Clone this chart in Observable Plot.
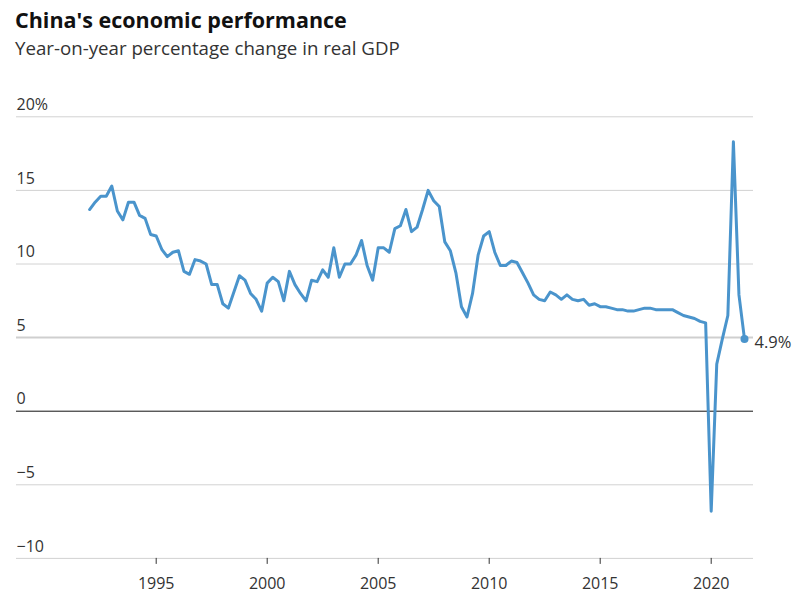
<!DOCTYPE html>
<html>
<head>
<meta charset="utf-8">
<script src="https://cdn.jsdelivr.net/npm/d3@7"></script>
<script src="https://cdn.jsdelivr.net/npm/@observablehq/plot@0.6"></script>
<style>
  body { margin: 0; background: #fff; font-family: "Open Sans", sans-serif; }
  #wrap { width: 804px; }
  #header { position: relative; height: 75px; }
  #title { position: absolute; left: 15px; top: 5px; font-size: 21.5px; line-height: normal; font-weight: 700; color: #111; white-space: nowrap; }
  #subtitle { position: absolute; left: 15px; top: 35px; font-size: 18.7px; line-height: normal; color: #333; white-space: nowrap; }
</style>
</head>
<body>
<div id="wrap">
  <div id="header">
    <div id="title">China's economic performance</div>
    <div id="subtitle">Year-on-year percentage change in real GDP</div>
  </div>
  <div id="chart"></div>
</div>
<script>
// Quarterly real GDP growth, year-on-year %, starting 1992 Q1
const startYear = 1992;
const gdpGrowth = [
  13.7, 14.2, 14.6, 14.6,   // 1992
  15.3, 13.6, 13.0, 14.2,   // 1993
  14.2, 13.3, 13.1, 12.0,   // 1994
  11.9, 11.0, 10.5, 10.8,   // 1995
  10.9, 9.5, 9.3, 10.3,     // 1996
  10.2, 10.0, 8.6, 8.6,     // 1997
  7.3, 7.0, 8.1, 9.2,       // 1998
  8.9, 8.0, 7.6, 6.8,       // 1999
  8.7, 9.1, 8.8, 7.5,       // 2000
  9.5, 8.6, 8.0, 7.5,       // 2001
  8.9, 8.8, 9.6, 9.1,       // 2002
  11.1, 9.1, 10.0, 10.0,    // 2003
  10.6, 11.6, 9.9, 8.9,     // 2004
  11.1, 11.1, 10.8, 12.4,   // 2005
  12.6, 13.7, 12.2, 12.5,   // 2006
  13.7, 15.0, 14.3, 13.9,   // 2007
  11.5, 10.9, 9.4, 7.1,     // 2008
  6.4, 8.0, 10.6, 11.9,     // 2009
  12.2, 10.8, 9.9, 9.9,     // 2010
  10.2, 10.1, 9.4, 8.7,     // 2011
  7.9, 7.6, 7.5, 8.1,       // 2012
  7.9, 7.6, 7.9, 7.6,       // 2013
  7.5, 7.6, 7.2, 7.3,       // 2014
  7.1, 7.1, 7.0, 6.9,       // 2015
  6.9, 6.8, 6.8, 6.9,       // 2016
  7.0, 7.0, 6.9, 6.9,       // 2017
  6.9, 6.9, 6.7, 6.5,       // 2018
  6.4, 6.3, 6.1, 6.0,       // 2019
  -6.8, 3.2, 4.9, 6.5,      // 2020
  18.3, 7.9, 4.9            // 2021
];
const yTicks = [-10, -5, 0, 5, 10, 15, 20];
const xTicks = [1995, 2000, 2005, 2010, 2015, 2020];
const lastLabel = "4.9%";

const rows = gdpGrowth.map((v, i) => ({ t: startYear + i / 4, v }));
const last = rows[rows.length - 1];
const fmt = d3.format("");
const lineColor = "#4a94cc";
const font = "'Open Sans', sans-serif";

const chart = Plot.plot({
  width: 804,
  height: 527,
  marginLeft: 16,
  marginRight: 51,
  marginTop: 41.3,
  marginBottom: 44.1,
  style: { fontFamily: font, fontSize: "16px", color: "#333", background: "#fff" },
  x: { type: "linear", domain: [1992, 2020], range: [89.1, 710.7], axis: null, label: null },
  y: { domain: [-10, 20], axis: null, label: null },
  marks: [
    Plot.ruleY(yTicks.filter(d => d !== 0 && d !== 5), { stroke: "#d2d2d2", strokeWidth: 1 }),
    Plot.ruleY([5], { stroke: "#cfcfcf", strokeWidth: 2 }),
    Plot.ruleY([0], { stroke: "#111", strokeWidth: 1 }),
    Plot.axisX({ ticks: xTicks, tickFormat: d => String(d), tickSize: 6, tickPadding: 13, stroke: "#333", fill: "#333", fontSize: 16, label: null }),
    Plot.text(yTicks, { y: d => d, text: d => d === 20 ? fmt(d) + "%" : fmt(d), frameAnchor: "left", textAnchor: "start", dy: -12, fill: "#333", fontSize: 16 }),
    Plot.line(rows, { x: "t", y: "v", stroke: lineColor, strokeWidth: 3, strokeLinejoin: "round", strokeLinecap: "round" }),
    Plot.dot([last], { x: "t", y: "v", r: 4, fill: lineColor }),
    Plot.text([last], { x: "t", y: "v", text: () => lastLabel, dx: 10, dy: 4, textAnchor: "start", fill: "#333", fontSize: 16.5 })
  ]
});
document.getElementById("chart").appendChild(chart);
</script>
</body>
</html>
